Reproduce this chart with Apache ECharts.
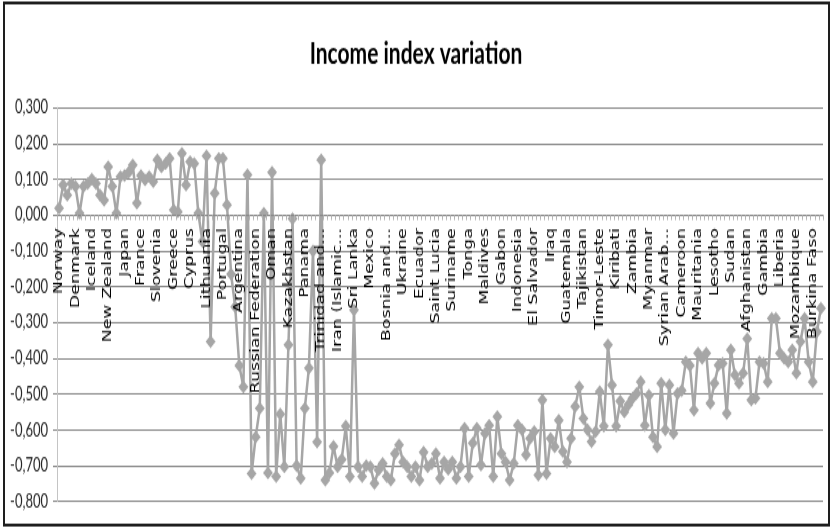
<!DOCTYPE html>
<html>
<head>
<meta charset="utf-8">
<title>Income index variation</title>
<script src="https://cdn.jsdelivr.net/npm/echarts@6/dist/echarts.min.js"></script>
<style>
  html, body { margin: 0; padding: 0; background: #ffffff; overflow: hidden; }
  /* The chart is laid out in a short box and stretched vertically, giving the tall, narrow lettering of the sheet. */
  #chart {
    position: absolute; left: 0; top: 0;
    width: 832px; height: 364px;
    transform: scaleY(1.4505); transform-origin: 0 0;
  }
</style>
</head>
<body>
<div id="chart"></div>
<script>
// Countries that carry a visible label (every fourth category).
const labelledCountries = [
  'Norway', 'Denmark', 'Iceland', 'New Zealand', 'Japan', 'France', 'Slovenia', 'Greece',
  'Cyprus', 'Lithuania', 'Portugal', 'Argentina', 'Russian Federation', 'Oman', 'Kazakhstan', 'Panama',
  'Trinidad and Tobago', 'Iran (Islamic Republic of)', 'Sri Lanka', 'Mexico', 'Bosnia and Herzegovina', 'Ukraine', 'Ecuador', 'Saint Lucia',
  'Suriname', 'Tonga', 'Maldives', 'Gabon', 'Indonesia', 'El Salvador', 'Iraq', 'Guatemala',
  'Tajikistan', 'Timor-Leste', 'Kiribati', 'Zambia', 'Myanmar', 'Syrian Arab Republic', 'Cameroon', 'Mauritania',
  'Lesotho', 'Sudan', 'Afghanistan', 'Gambia', 'Liberia', 'Mozambique', 'Burkina Faso'
];

// The three countries that follow each labelled one.
const otherCountries = [
  'Australia', 'Netherlands', 'United States', 'Canada', 'Ireland', 'Liechtenstein', 'Germany', 'Sweden',
  'Switzerland', 'Hong Kong, China (SAR)', 'Korea (Republic of)', 'Israel', 'Belgium', 'Austria', 'Finland', 'Spain',
  'Italy', 'Luxembourg', 'Singapore', 'Czech Republic', 'United Kingdom', 'United Arab Emirates', 'Andorra', 'Brunei Darussalam',
  'Estonia', 'Slovakia', 'Malta', 'Qatar', 'Hungary', 'Poland', 'Bahrain', 'Latvia',
  'Chile', 'Croatia', 'Barbados', 'Uruguay', 'Palau', 'Romania', 'Cuba', 'Seychelles',
  'Bahamas', 'Montenegro', 'Bulgaria', 'Saudi Arabia', 'Serbia', 'Antigua and Barbuda', 'Malaysia', 'Kuwait',
  'Libya', 'Belarus', 'Grenada', 'Costa Rica', 'Albania', 'Lebanon', 'Saint Kitts and Nevis', 'Venezuela',
  'Georgia', 'Mauritius', 'Macedonia', 'Jamaica', 'Peru', 'Dominica', 'Brazil', 'Saint Vincent and the Grenadines',
  'Armenia', 'Colombia', 'Azerbaijan', 'Turkey', 'Belize', 'Tunisia', 'Jordan', 'Algeria',
  'Dominican Republic', 'Samoa', 'Fiji', 'China', 'Turkmenistan', 'Thailand', 'Paraguay', 'Bolivia',
  'Mongolia', 'Moldova (Republic of)', 'Philippines', 'Egypt', 'Occupied Palestinian Territory', 'Uzbekistan', 'Micronesia', 'Guyana',
  'Botswana', 'Namibia', 'Honduras', 'South Africa', 'Vanuatu', 'Kyrgyzstan', 'Viet Nam', 'Nicaragua',
  'Morocco', 'Cape Verde', 'India', 'Ghana', 'Equatorial Guinea', 'Congo', 'Lao People\'s Democratic Republic', 'Cambodia',
  'Swaziland', 'Bhutan', 'Solomon Islands', 'Kenya', 'Sao Tome and Principe', 'Pakistan', 'Bangladesh', 'Angola',
  'Madagascar', 'Tanzania (United Republic of)', 'Papua New Guinea', 'Yemen', 'Senegal', 'Nigeria', 'Nepal', 'Haiti',
  'Uganda', 'Togo', 'Comoros', 'Djibouti', 'Rwanda', 'Benin', 'Cote d\'Ivoire', 'Malawi',
  'Zimbabwe', 'Ethiopia', 'Mali', 'Guinea-Bissau', 'Eritrea', 'Guinea', 'Central African Republic', 'Sierra Leone',
  'Chad', 'Burundi', 'Niger', 'Congo (Democratic Republic of the)'
];

// Income index variation, one value per country in category order.
const incomeVariation = [
   0.019,  0.084,  0.056,  0.088,  0.080,  0.005,  0.080,  0.088,  0.100,  0.088,
   0.056,  0.042,  0.135,  0.080,  0.005,  0.107,  0.110,  0.120,  0.140,  0.033,
   0.110,  0.098,  0.107,  0.093,  0.154,  0.135,  0.144,  0.158,  0.014,  0.009,
   0.172,  0.084,  0.149,  0.144,  0.005, -0.074,  0.165, -0.354,  0.061,  0.158,
   0.158,  0.028, -0.165, -0.256, -0.420, -0.480,  0.112, -0.722, -0.620, -0.540,
   0.005, -0.720,  0.120, -0.730, -0.556, -0.703, -0.363, -0.010, -0.700, -0.735,
  -0.540, -0.427, -0.100, -0.634,  0.154, -0.740, -0.720, -0.646, -0.703, -0.683,
  -0.590, -0.730, -0.265, -0.703, -0.730, -0.700, -0.703, -0.750, -0.712, -0.694,
  -0.730, -0.740, -0.666, -0.642, -0.690, -0.703, -0.730, -0.703, -0.740, -0.662,
  -0.703, -0.694, -0.666, -0.735, -0.690, -0.710, -0.690, -0.735, -0.703, -0.596,
  -0.730, -0.637, -0.596, -0.698, -0.610, -0.587, -0.730, -0.563, -0.666, -0.690,
  -0.740, -0.694, -0.587, -0.600, -0.670, -0.624, -0.605, -0.726, -0.517, -0.722,
  -0.624, -0.647, -0.573, -0.660, -0.690, -0.624, -0.535, -0.480, -0.568, -0.600,
  -0.633, -0.605, -0.493, -0.590, -0.363, -0.475, -0.590, -0.520, -0.550, -0.530,
  -0.512, -0.498, -0.466, -0.587, -0.503, -0.620, -0.647, -0.470, -0.600, -0.475,
  -0.610, -0.498, -0.490, -0.410, -0.420, -0.545, -0.386, -0.400, -0.386, -0.526,
  -0.470, -0.419, -0.414, -0.554, -0.377, -0.447, -0.470, -0.442, -0.345, -0.517,
  -0.512, -0.410, -0.414, -0.466, -0.289, -0.289, -0.386, -0.400, -0.410, -0.377,
  -0.442, -0.354, -0.289, -0.410, -0.466, -0.326, -0.260
];

// Value axis range and step.
const yMin = -0.8;
const yMax = 0.3;
const yStep = 0.1;

// Category order: each labelled country followed by its three neighbours.
const categories = [];
labelledCountries.forEach(function (name, k) {
  categories.push(name);
  otherCountries.slice(k * 3, k * 3 + 3).forEach(function (n) { categories.push(n); });
});

// Long names are cut at a word and ended with dots.
function shortName(name) {
  if (name.length <= 18) return name;
  const cut = name.lastIndexOf(' ', 14);
  return name.slice(0, cut) + '...';
}

const chart = echarts.init(document.getElementById('chart'));

chart.setOption({
  backgroundColor: '#ffffff',
  animation: false,
  title: {
    text: 'Income index variation',
    left: 'center',
    top: 22,
    textStyle: { fontFamily: 'Lato', fontWeight: 'bold', fontSize: 21, color: '#000000' }
  },
  graphic: [{
    type: 'rect',
    silent: true,
    shape: { x: 4, y: 2, width: 825, height: 360 },
    style: { fill: 'none', stroke: '#1e1e1e', lineWidth: 2 }
  }],
  grid: {
    left: 57, right: 9, top: 74.2, bottom: 18.3,
    containLabel: false,
    outerBoundsMode: 'none'
  },
  xAxis: {
    type: 'category',
    data: categories,
    boundaryGap: true,
    z: 4,
    axisLine: { onZero: false, lineStyle: { color: '#8a8a8a', width: 1 } },
    axisTick: { show: true, interval: 0, length: 3.5, inside: false, lineStyle: { color: '#b4b4b4', width: 1 } },
    axisLabel: {
      interval: 3,
      rotate: 90,
      margin: 9,
      fontFamily: 'DejaVu Sans',
      fontSize: 12,
      color: '#000000',
      formatter: shortName
    },
    splitLine: { show: false }
  },
  yAxis: {
    type: 'value',
    min: yMin,
    max: yMax,
    interval: yStep,
    axisLine: { show: true, lineStyle: { color: '#c4c4c4', width: 1 } },
    axisTick: { show: true, length: 4, lineStyle: { color: '#8a8a8a' } },
    axisLabel: {
      margin: 9,
      fontFamily: 'Lato',
      fontSize: 13,
      color: '#262626',
      formatter: function (v) { return v.toFixed(3).replace('.', ','); }
    },
    splitLine: { show: true, lineStyle: { color: '#8a8a8a', width: 1 } }
  },
  series: [{
    type: 'line',
    data: incomeVariation,
    symbol: 'diamond',
    symbolSize: [10, 9],
    showAllSymbol: true,
    lineStyle: { color: '#a6a6a6', width: 2.5 },
    itemStyle: { color: '#a6a6a6' },
    z: 3
  }]
});

// The category axis crosses the value axis at zero: lift it from the grid floor to that level.
const zeroY = chart.convertToPixel({ yAxisIndex: 0 }, 0);
const floorY = chart.convertToPixel({ yAxisIndex: 0 }, yMin);
chart.setOption({ xAxis: { offset: zeroY - floorY } });
</script>
</body>
</html>
